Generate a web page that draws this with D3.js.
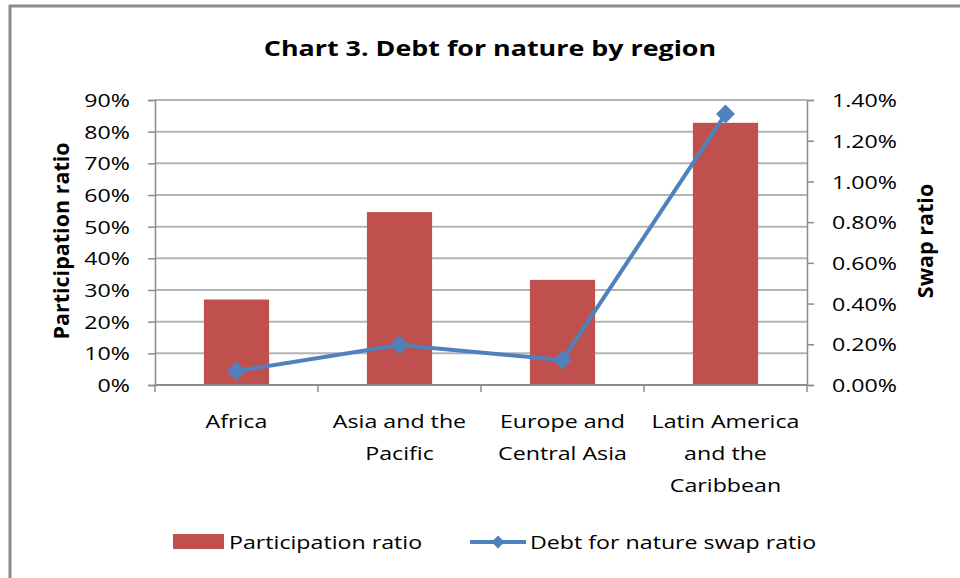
<!DOCTYPE html>
<html>
<head>
<meta charset="utf-8">
<script src="https://cdn.jsdelivr.net/npm/d3@7"></script>
<style>
  body { margin: 0; background: #fff; }
  svg text { font-family: "Open Sans", Lato, sans-serif; fill: #000; }
</style>
</head>
<body>
<div id="chart"></div>
<script>
// data
const regions = ["Africa", "Asia and the Pacific", "Europe and Central Asia", "Latin America and the Caribbean"];
const regionLines = [["Africa"], ["Asia and the", "Pacific"], ["Europe and", "Central Asia"], ["Latin America", "and the", "Caribbean"]];
const participation = [0.27, 0.546, 0.332, 0.828];
const swapRatio = [0.00069, 0.00196, 0.00123, 0.01331];
const leftTicks = [0, 0.1, 0.2, 0.3, 0.4, 0.5, 0.6, 0.7, 0.8, 0.9];
const rightTicks = [0, 0.002, 0.004, 0.006, 0.008, 0.010, 0.012, 0.014];

const W = 960, H = 578;
const plot = {left: 155, right: 807, top: 100, bottom: 385};
const barColor = "#C0504D", lineColor = "#4F81BD";
const wide = 1.22; // the source text is drawn horizontally stretched

// widen glyphs without changing their height
function stretch(sel, k) {
    sel.each(function() {
        const len = this.getComputedTextLength();
        d3.select(this)
            .attr("textLength", len * k)
            .attr("lengthAdjust", "spacingAndGlyphs");
    });
}

const svg = d3.select("#chart").append("svg")
    .attr("width", W)
    .attr("height", H);

// frame
svg.append("path")
    .attr("d", "M10," + H + " V6 H" + W)
    .attr("fill", "none")
    .attr("stroke", "#8c8c8c")
    .attr("stroke-width", 3);

svg.append("text")
    .attr("x", 490).attr("y", 56)
    .attr("text-anchor", "middle")
    .style("font-size", "22px")
    .style("font-weight", "bold")
    .text("Chart 3. Debt for nature by region")
    .call(stretch, wide);

const x = d3.scaleBand()
    .domain(regions)
    .range([plot.left, plot.right])
    .paddingInner(0.6)
    .paddingOuter(0.3);

const yL = d3.scaleLinear().domain([0, 0.9]).range([plot.bottom, plot.top]);
const yR = d3.scaleLinear().domain([0, 0.014]).range([plot.bottom, plot.top]);

// gridlines
svg.append("g")
    .selectAll("line")
    .data(leftTicks.slice(1))
    .join("line")
    .attr("x1", plot.left).attr("x2", plot.right)
    .attr("y1", d => yL(d)).attr("y2", d => yL(d))
    .attr("stroke", "#b4b4b4")
    .attr("stroke-width", 2);

// bars
svg.append("g")
    .selectAll("rect")
    .data(participation)
    .join("rect")
    .attr("x", (d, i) => x(regions[i]))
    .attr("width", x.bandwidth())
    .attr("y", d => yL(d))
    .attr("height", d => yL(0) - yL(d))
    .attr("fill", barColor);

// axes
const fmtL = d3.format(".0%");
const fmtR = d3.format(".2%");

const axL = svg.append("g")
    .attr("transform", "translate(" + plot.left + ",0)")
    .call(d3.axisLeft(yL).tickValues(leftTicks).tickFormat(fmtL).tickSize(7).tickPadding(18));
const axR = svg.append("g")
    .attr("transform", "translate(" + plot.right + ",0)")
    .call(d3.axisRight(yR).tickValues(rightTicks).tickFormat(fmtR).tickSize(7).tickPadding(18));
[axL, axR].forEach(ax => {
    ax.select(".domain").attr("stroke", "#8c8c8c").attr("stroke-width", 1.5);
    ax.selectAll(".tick line").attr("stroke", "#8c8c8c").attr("stroke-width", 1.5);
    ax.selectAll(".tick text")
        .style("font-size", "19px")
        .attr("font-family", null)
        .attr("dy", "0.35em")
        .call(stretch, wide);
});

// x axis with boundary ticks
const xAxisG = svg.append("g");
xAxisG.append("line")
    .attr("x1", plot.left).attr("x2", plot.right)
    .attr("y1", plot.bottom).attr("y2", plot.bottom)
    .attr("stroke", "#8c8c8c").attr("stroke-width", 2);
const step = x.step();
xAxisG.selectAll(".bt")
    .data(d3.range(regions.length + 1))
    .join("line")
    .attr("class", "bt")
    .attr("x1", i => plot.left + i * step).attr("x2", i => plot.left + i * step)
    .attr("y1", plot.bottom).attr("y2", plot.bottom + 7)
    .attr("stroke", "#8c8c8c").attr("stroke-width", 1.5);

xAxisG.selectAll(".cat")
    .data(regionLines)
    .join("text")
    .attr("class", "cat")
    .attr("text-anchor", "middle")
    .style("font-size", "19px")
    .each(function(lines, i) {
        const cx = x(regions[i]) + x.bandwidth() / 2;
        d3.select(this).selectAll("tspan")
            .data(lines)
            .join("tspan")
            .attr("x", cx)
            .attr("y", (d, j) => 428 + j * 32)
            .text(d => d)
            .call(stretch, wide);
    });

// line series
const line = d3.line()
    .x((d, i) => x(regions[i]) + x.bandwidth() / 2)
    .y(d => yR(d));
svg.append("path")
    .datum(swapRatio)
    .attr("d", line)
    .attr("fill", "none")
    .attr("stroke", lineColor)
    .attr("stroke-width", 4)
    .attr("stroke-linejoin", "round");

const diamond = d3.symbol().type(d3.symbolDiamond2).size(230);
svg.append("g")
    .selectAll("path")
    .data(swapRatio)
    .join("path")
    .attr("d", diamond)
    .attr("transform", (d, i) => "translate(" + (x(regions[i]) + x.bandwidth() / 2) + "," + yR(d) + ")")
    .attr("fill", lineColor);

// axis titles
svg.append("text")
    .attr("transform", "translate(69,241) rotate(-90)")
    .attr("text-anchor", "middle")
    .style("font-size", "21.5px")
    .style("font-weight", "bold")
    .text("Participation ratio");
svg.append("text")
    .attr("transform", "translate(933,241) rotate(-90)")
    .attr("text-anchor", "middle")
    .style("font-size", "21.5px")
    .style("font-weight", "bold")
    .text("Swap ratio");

// legend
const leg = svg.append("g");
leg.append("rect")
    .attr("x", 173).attr("y", 534).attr("width", 51).attr("height", 15)
    .attr("fill", barColor);
leg.append("text")
    .attr("x", 229).attr("y", 549)
    .style("font-size", "19px")
    .text("Participation ratio")
    .call(stretch, wide);
leg.append("line")
    .attr("x1", 470).attr("x2", 526).attr("y1", 542).attr("y2", 542)
    .attr("stroke", lineColor).attr("stroke-width", 4);
leg.append("path")
    .attr("d", d3.symbol().type(d3.symbolDiamond2).size(110))
    .attr("transform", "translate(498,542)")
    .attr("fill", lineColor);
leg.append("text")
    .attr("x", 530).attr("y", 549)
    .style("font-size", "19px")
    .text("Debt for nature swap ratio")
    .call(stretch, wide);
</script>
</body>
</html>
